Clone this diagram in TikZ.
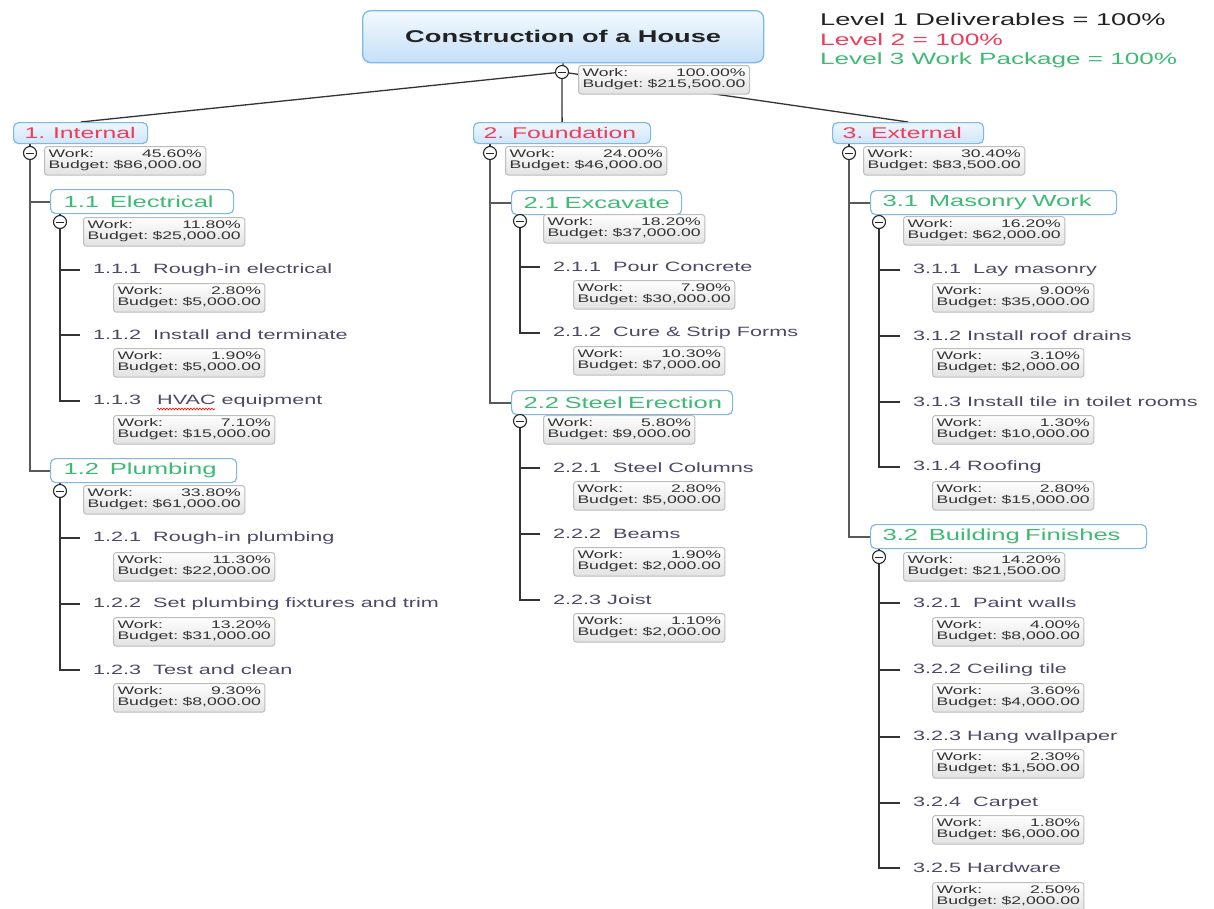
\documentclass[tikz,border=0pt]{standalone}
\usepackage{fontspec}
\setmainfont{Liberation Sans}[FakeStretch=1.6]
\usetikzlibrary{decorations.pathmorphing}
\pgfdeclarelayer{bg}
\pgfsetlayers{bg,main}
\definecolor{wbsred}{HTML}{EE3D5A}
\definecolor{wbsgreen}{HTML}{3DBB75}
\definecolor{taskcol}{HTML}{4D4866}
\definecolor{boxblue}{HTML}{7DB8EC}
\definecolor{titletop}{HTML}{F4F9FE}
\definecolor{titlebot}{HTML}{C4E0F8}
\definecolor{lvtop}{HTML}{EEF6FD}
\definecolor{lvbot}{HTML}{CFE6F9}
\definecolor{workbot}{HTML}{E2E2E2}
\definecolor{workborder}{HTML}{BDBDBD}
\definecolor{worktext}{HTML}{333333}
\definecolor{legdark}{HTML}{222222}
\newcommand\wbsfs[1]{\fontsize{#1}{#1}\selectfont}
\newcommand\wbsw[2]{\begin{tabular}{@{}l@{\hspace{4.5pt}}r@{}}Work:&#1\\Budget:&#2\end{tabular}}
\tikzset{
  titlebox/.style={draw=boxblue, line width=1.3pt, rounded corners=8pt, top color=titletop, bottom color=titlebot, anchor=north west, font=\bfseries\wbsfs{17}, text=legdark},
  lvone/.style={draw=boxblue, line width=1.2pt, rounded corners=5pt, top color=lvtop, bottom color=lvbot, anchor=north west, minimum height=21pt, inner xsep=0pt, inner ysep=0pt, align=left, font=\wbsfs{15.5}, text=wbsred},
  lvtwo/.style={draw=boxblue, line width=1.2pt, rounded corners=5pt, fill=white, anchor=north west, minimum height=24pt, inner xsep=0pt, inner ysep=0pt, align=left, font=\wbsfs{16}, text=wbsgreen},
  task/.style={anchor=west, inner xsep=13pt, inner ysep=1pt, font=\wbsfs{13.5}, text=taskcol},
  work/.style={draw=workborder, line width=1pt, rounded corners=3pt, top color=white, bottom color=workbot, anchor=north west, inner xsep=4pt, inner ysep=2.8pt, font=\fontsize{11}{11.5}\selectfont, text=worktext},
  colps/.style={circle, draw=black!85, line width=1.1pt, fill=white, minimum size=13pt, inner sep=0pt,
    path picture={\draw[line width=1pt] ([xshift=-3.8pt]path picture bounding box.center) -- ([xshift=3.8pt]path picture bounding box.center);}},
  legend/.style={anchor=west, inner sep=0pt, font=\wbsfs{16.5}},
  rootln/.style={draw=black!80, line width=1.3pt},
  trunkone/.style={draw=black!65, line width=2pt},
  trunktwo/.style={draw=black!80, line width=2pt},
}
\begin{document}
\begin{tikzpicture}[x=1pt,y=-1pt]
\useasboundingbox (0,0) rectangle (1214,908);

% root
\node[titlebox, minimum width=401pt, minimum height=52pt] (root) at (362,10) {Construction of a House};
\node[colps] (c0) at (562,72) {};
\node[work] (w0) at (578,65) {\wbsw{100.00\%}{\$215,500.00}};

% legend
\node[legend, text=legdark, font=\wbsfs{17}] (lg1) at (820,19) {Level 1 Deliverables = 100\%};
\node[legend, text=wbsred] (lg2) at (820,40) {Level 2 = 100\%};
\node[legend, text=wbsgreen, font=\wbsfs{16.3}] (lg3) at (820,60) {Level 3 Work Package = 100\%};

% level 1
\node[lvone, text width=134pt] (n1) at (13,122) {\hspace*{11pt}1. Internal};
\node[lvone, text width=177pt] (n2) at (473,122) {\hspace*{10pt}2. Foundation};
\node[lvone, text width=151pt] (n3) at (832,122) {\hspace*{10pt}3. External};
\node[colps] (c1) at (30,153) {};
\node[colps] (c2) at (490,153) {};
\node[colps] (c3) at (849,153) {};
\node[work] (w1) at (44,146) {\wbsw{45.60\%}{\$86,000.00}};
\node[work] (w2) at (505,146) {\wbsw{24.00\%}{\$46,000.00}};
\node[work] (w3) at (863,146) {\wbsw{30.40\%}{\$83,500.00}};

% 1.1
\node[lvtwo, text width=183pt] (n11) at (50,189) {\hspace*{13pt}1.1~~Electrical};
\node[colps] (c11) at (60,222) {};
\node[work] (w11) at (83,217) {\wbsw{11.80\%}{\$25,000.00}};
\node[task] (t111) at (80,270) {1.1.1~~Rough-in electrical};
\node[work] (w111) at (113,283) {\wbsw{2.80\%}{\$5,000.00}};
\node[task] (t112) at (80,335) {1.1.2~~Install and terminate};
\node[work] (w112) at (113,348) {\wbsw{1.90\%}{\$5,000.00}};
\node[task] (t113) at (80,401) {1.1.3\hspace{16pt}HVAC equipment};
\node[work] (w113) at (113,415) {\wbsw{7.10\%}{\$15,000.00}};
% 1.2
\node[lvtwo, text width=186pt] (n12) at (50,458) {\hspace*{13pt}1.2~~Plumbing};
\node[colps] (c12) at (60,491) {};
\node[work] (w12) at (83,485) {\wbsw{33.80\%}{\$61,000.00}};
\node[task] (t121) at (80,538) {1.2.1~~Rough-in plumbing};
\node[work] (w121) at (113,552) {\wbsw{11.30\%}{\$22,000.00}};
\node[task] (t122) at (80,604) {1.2.2~~Set plumbing fixtures and trim};
\node[work] (w122) at (113,617) {\wbsw{13.20\%}{\$31,000.00}};
\node[task] (t123) at (80,670) {1.2.3~~Test and clean};
\node[work] (w123) at (113,683) {\wbsw{9.30\%}{\$8,000.00}};

% 2.1
\node[lvtwo, text width=170pt] (n21) at (511,190) {\hspace*{12pt}2.1 Excavate};
\node[colps] (c21) at (520,221) {};
\node[work] (w21) at (543,214) {\wbsw{18.20\%}{\$37,000.00}};
\node[task] (t211) at (540,267) {2.1.1~~Pour Concrete};
\node[work] (w211) at (573,280) {\wbsw{7.90\%}{\$30,000.00}};
\node[task] (t212) at (540,333) {2.1.2~~Cure \& Strip Forms};
\node[work] (w212) at (573,346) {\wbsw{10.30\%}{\$7,000.00}};
% 2.2
\node[lvtwo, text width=221pt] (n22) at (511,390) {\hspace*{12pt}2.2 Steel Erection};
\node[colps] (c22) at (520,421) {};
\node[work] (w22) at (543,415) {\wbsw{5.80\%}{\$9,000.00}};
\node[task] (t221) at (540,468) {2.2.1~~Steel Columns};
\node[work] (w221) at (573,481) {\wbsw{2.80\%}{\$5,000.00}};
\node[task] (t222) at (540,534) {2.2.2~~Beams};
\node[work] (w222) at (573,547) {\wbsw{1.90\%}{\$2,000.00}};
\node[task] (t223) at (540,600) {2.2.3 Joist};
\node[work] (w223) at (573,613) {\wbsw{1.10\%}{\$2,000.00}};

% 3.1
\node[lvtwo, text width=246pt] (n31) at (870,190) {\hspace*{12pt}3.1~~Masonry Work};
\node[colps] (c31) at (879,222) {};
\node[work] (w31) at (903,216) {\wbsw{16.20\%}{\$62,000.00}};
\node[task] (t311) at (900,270) {3.1.1~~Lay masonry};
\node[work] (w311) at (932,283) {\wbsw{9.00\%}{\$35,000.00}};
\node[task] (t312) at (900,336) {3.1.2 Install roof drains};
\node[work] (w312) at (932,348) {\wbsw{3.10\%}{\$2,000.00}};
\node[task] (t313) at (900,402) {3.1.3 Install tile in toilet rooms};
\node[work] (w313) at (932,415) {\wbsw{1.30\%}{\$10,000.00}};
\node[task] (t314) at (900,467) {3.1.4 Roofing};
\node[work] (w314) at (932,481) {\wbsw{2.80\%}{\$15,000.00}};
% 3.2
\node[lvtwo, text width=276pt] (n32) at (870,524) {\hspace*{12pt}3.2~~Building Finishes};
\node[colps] (c32) at (879,557) {};
\node[work] (w32) at (903,552) {\wbsw{14.20\%}{\$21,500.00}};
\node[task] (t321) at (900,603) {3.2.1~~Paint walls};
\node[work] (w321) at (932,617) {\wbsw{4.00\%}{\$8,000.00}};
\node[task] (t322) at (900,670) {3.2.2 Ceiling tile};
\node[work] (w322) at (932,683) {\wbsw{3.60\%}{\$4,000.00}};
\node[task] (t323) at (900,737) {3.2.3 Hang wallpaper};
\node[work] (w323) at (932,749) {\wbsw{2.30\%}{\$1,500.00}};
\node[task] (t324) at (900,803) {3.2.4~~Carpet};
\node[work] (w324) at (932,815) {\wbsw{1.80\%}{\$6,000.00}};
\node[task] (t325) at (900,868) {3.2.5 Hardware};
\node[work] (w325) at (932,882) {\wbsw{2.50\%}{\$2,000.00}};

% spell-check underline
\draw[red, line width=0.6pt, decorate, decoration={snake, amplitude=0.9pt, segment length=3pt}] (157,409) -- (215,409);

\begin{pgfonlayer}{bg}
  \fill[white] (0,0) rectangle (1214,908);
  \draw[rootln] (root.south) -- (c0);
  \draw[rootln] (c0) -- (n1.north);
  \draw[rootln] (c0) -- (n2.north);
  \draw[rootln] (c0) -- (n3.north);
  \foreach \c/\n in {c1/n1, c2/n2, c3/n3, c11/n11, c12/n12, c21/n21, c22/n22, c31/n31, c32/n32}
    \draw[rootln] (\n.south -| \c) -- (\c);
  \draw[trunkone] (c1) |- (n11.west);
  \draw[trunkone] (c1) |- (n12.west);
  \draw[trunkone] (c2) |- (n21.west);
  \draw[trunkone] (c2) |- (n22.west);
  \draw[trunkone] (c3) |- (n31.west);
  \draw[trunkone] (c3) |- (n32.west);
  \foreach \c/\t in {c11/t111, c11/t112, c11/t113, c12/t121, c12/t122, c12/t123,
                     c21/t211, c21/t212, c22/t221, c22/t222, c22/t223,
                     c31/t311, c31/t312, c31/t313, c31/t314,
                     c32/t321, c32/t322, c32/t323, c32/t324, c32/t325}
    \draw[trunktwo] (\c) |- (\t.west);
\end{pgfonlayer}
\end{tikzpicture}
\end{document}
